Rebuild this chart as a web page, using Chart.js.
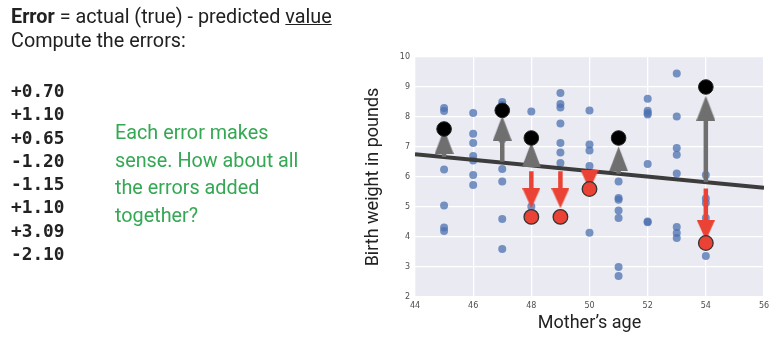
<!DOCTYPE html>
<html>
<head>
<meta charset="utf-8">
<script src="https://cdn.jsdelivr.net/npm/chart.js@4.4.1/dist/chart.umd.min.js"></script>
<style>
  html, body { margin: 0; padding: 0; background: #fff; }
  #wrap { position: relative; width: 780px; height: 354px; overflow: hidden; }
  #c { position: absolute; left: 0; top: 0; }
  .t { position: absolute; white-space: nowrap; font-family: Roboto, sans-serif; color: #212121; }
  .head { font-size: 19.8px; line-height: 24px; }
  .num { font-family: "DejaVu Sans Mono", monospace; font-weight: bold; font-size: 17.8px; line-height: 23.3px; color: #222; }
  .note { font-size: 19.8px; line-height: 27.7px; color: #34a853; }
</style>
</head>
<body>
<div id="wrap">
  <canvas id="c" width="780" height="354"></canvas>
  <div class="t head" style="left:11px; top:5px;"><b>Error</b> = actual (true) - predicted <u>value</u></div>
  <div class="t head" style="left:11px; top:29px;">Compute the errors:</div>
  <div class="t num" id="nums" style="left:11px; top:79px;"></div>
  <div class="t note" style="left:115px; top:119px;">Each error makes<br>sense. How about all<br>the errors added<br>together?</div>
</div>
<script>
// errors listed on the left
const errorLabels = ['+0.70', '+1.10', '+0.65', '-1.20', '-1.15', '+1.10', '+3.09', '-2.10'];

// all samples (mother's age, birth weight)
const ages = [45, 45, 45, 45, 45, 45,
  46, 46, 46, 46, 46, 46, 46,
  47, 47, 47, 47, 47, 47, 47,
  48, 48,
  49, 49, 49, 49, 49, 49, 49,
  50, 50, 50, 50, 50,
  51, 51, 51, 51, 51, 51, 51,
  52, 52, 52, 52, 52, 52, 52,
  53, 53, 53, 53, 53, 53, 53, 53,
  54, 54, 54, 54, 54];
const weights = [8.3, 8.2, 6.25, 5.05, 4.32, 4.2,
  8.13, 7.44, 7.13, 6.7, 6.55, 6.07, 5.73,
  8.5, 8.4, 7.25, 6.27, 5.85, 4.6, 3.6,
  8.18, 5.02,
  8.8, 8.43, 8.32, 7.78, 7.13, 6.82, 6.47,
  8.22, 7.08, 6.88, 6.37, 4.14,
  5.85, 5.3, 5.24, 4.88, 4.63, 3.0, 2.7,
  8.61, 8.21, 8.13, 8.08, 6.43, 4.52, 4.49,
  9.45, 8.02, 6.97, 6.74, 6.12, 4.33, 4.13, 3.97,
  6.07, 5.28, 5.13, 4.63, 3.37];

// fitted line
const fitX = [44, 56];
const fitY = [6.76, 5.64];

// highlighted actual values above / below the line
const aboveX = [45, 47, 48, 51, 54];
const aboveY = [7.6, 8.22, 7.3, 7.3, 9.0];
const belowX = [48, 49, 50, 54];
const belowY = [4.67, 4.67, 5.6, 3.8];

// error arrows: start, head base, tip
const upFrom = [6.67, 6.51, 6.36, 6.11, 5.83];
const upBase = [6.8, 7.24, 6.36, 6.22, 7.91];
const upTip = [7.6, 8.04, 7.16, 7.02, 8.71];
const downFrom = [6.19, 6.19, 6.24, 5.62];
const downBase = [5.63, 5.63, 6.24, 4.56];
const downTip = [4.96, 4.96, 5.57, 3.89];

const xTicks = [44, 46, 48, 50, 52, 54, 56];
const yTicks = [2, 3, 4, 5, 6, 7, 8, 9, 10];

document.getElementById('nums').innerHTML = errorLabels.join('<br>');

const GRAY = '#6f6f6f';
const RED = '#ea4335';

// arrow head as image, tip at the image centre
function headImage(w, h, color, up) {
  const c = document.createElement('canvas');
  c.width = w; c.height = 2 * h;
  const g = c.getContext('2d');
  g.fillStyle = color;
  g.beginPath();
  if (up) { g.moveTo(w / 2, h); g.lineTo(w, 2 * h); g.lineTo(0, 2 * h); }
  else { g.moveTo(w / 2, h); g.lineTo(w, 0); g.lineTo(0, 0); }
  g.closePath();
  g.fill();
  return c;
}

const pts = (xs, ys) => xs.map((x, i) => ({ x: x, y: ys[i] }));

const shaft = (x, a, b, color) => ({
  type: 'line',
  data: [{ x: x, y: a }, { x: x, y: b }],
  borderColor: color,
  borderWidth: 4.5,
  borderCapStyle: 'butt',
  pointRadius: 0,
  order: 3
});

const bgPlugin = {
  id: 'plotBg',
  beforeDraw(chart) {
    const { ctx, chartArea: a } = chart;
    ctx.save();
    ctx.fillStyle = '#eaeaf2';
    ctx.fillRect(a.left, a.top, a.right - a.left, a.bottom - a.top);
    ctx.restore();
  }
};

const datasets = [
  {
    data: pts(aboveX, aboveY),
    backgroundColor: '#000',
    borderColor: '#222',
    borderWidth: 1,
    pointRadius: 7.3,
    order: 0
  },
  {
    data: pts(belowX, belowY),
    backgroundColor: RED,
    borderColor: '#333',
    borderWidth: 1.3,
    pointRadius: 7.3,
    order: 0
  },
  {
    data: pts(aboveX, upTip),
    pointStyle: headImage(19, 25, GRAY, true),
    order: 2
  },
  {
    data: pts(belowX, downTip),
    pointStyle: headImage(18, 20, RED, false),
    order: 2
  },
  ...aboveX.map((x, i) => shaft(x, upFrom[i], upBase[i], GRAY)),
  ...belowX.map((x, i) => shaft(x, downFrom[i], downBase[i], RED)),
  {
    type: 'line',
    data: pts(fitX, fitY),
    borderColor: '#3c3c3c',
    borderWidth: 4,
    pointRadius: 0,
    order: 4
  },
  {
    data: pts(ages, weights),
    backgroundColor: 'rgba(76,114,176,0.75)',
    borderWidth: 0,
    pointRadius: 4,
    order: 5
  }
];

new Chart(document.getElementById('c'), {
  type: 'scatter',
  data: { datasets: datasets },
  options: {
    responsive: false,
    animation: false,
    events: [],
    layout: { padding: { left: 350, top: 57, right: 16, bottom: 20 } },
    plugins: { legend: { display: false }, tooltip: { enabled: false } },
    scales: {
      x: {
        min: 44, max: 56,
        afterBuildTicks: s => { s.ticks = xTicks.map(v => ({ value: v })); },
        afterFit: s => { s.height = 37; },
        grid: { color: '#fff', lineWidth: 1.3, drawTicks: false },
        border: { display: false },
        ticks: { padding: 4, color: '#4d4d4d', font: { family: 'DejaVu Sans', size: 8 } },
        title: {
          display: true, text: 'Mother\u2019s age', color: '#222',
          font: { family: 'Roboto', size: 18 }, padding: 0
        }
      },
      y: {
        min: 2, max: 10,
        afterBuildTicks: s => { s.ticks = yTicks.map(v => ({ value: v })); },
        afterFit: s => { s.width = 65; },
        grid: { color: '#fff', lineWidth: 1.3, drawTicks: false },
        border: { display: false },
        ticks: { padding: 5, color: '#4d4d4d', font: { family: 'DejaVu Sans', size: 8 } },
        title: {
          display: true, text: 'Birth weight in pounds', color: '#222',
          font: { family: 'Roboto', size: 18 }, padding: { top: 13, bottom: 0 }
        }
      }
    }
  },
  plugins: [bgPlugin]
});
</script>
</body>
</html>
